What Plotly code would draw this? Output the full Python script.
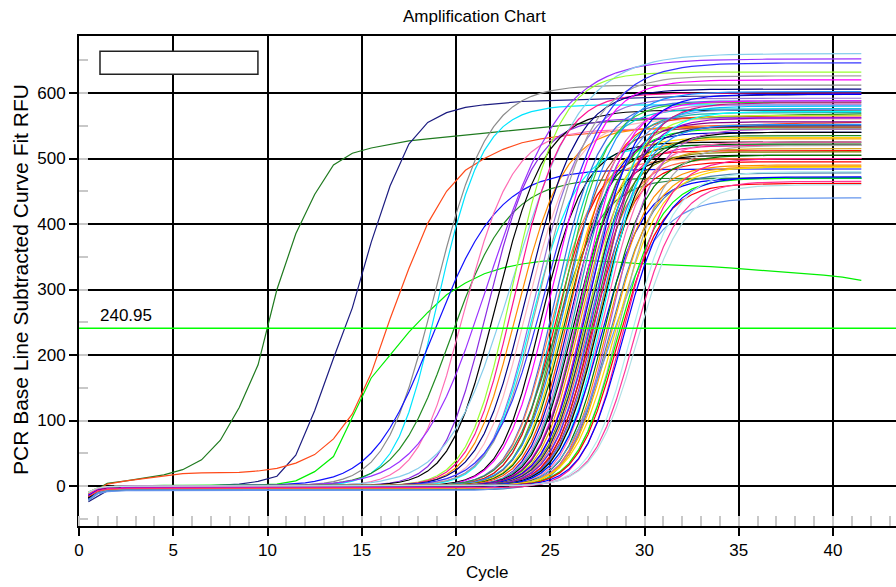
import numpy as np
import plotly.graph_objects as go

# ---------------------------------------------------------------------------
# Amplification run: base-line subtracted, curve-fit RFU per well
# ---------------------------------------------------------------------------
THRESHOLD = 240.95
THRESHOLD_LABEL = "240.95"

# Wells stored point by point (one value per cycle, read at half-cycle marks)
TABLE_CYCLES = list(np.arange(0.5, 41.6, 1.0))

EARLY_GREEN_RFU = [-12, 4, 8, 12, 17, 25, 40, 70, 120, 185, 300, 385, 445, 490, 508,
                   516, 522, 527, 530, 533, 536, 539, 542, 545, 548, 551, 553, 555,
                   557, 559, 560, 561, 562, 563, 564, 565, 566, 566, 567, 567, 568, 568]
NAVY_RFU = [-24, -7, -2, -1, 0, 0, 0, 1, 3, 7, 15, 47, 115, 195, 272, 372, 458, 522,
            555, 570, 578, 582, 585, 587, 588, 589, 590, 591, 592, 593, 594, 594,
            595, 595, 596, 596, 597, 597, 598, 598, 599, 599]
ORANGE_RED_RFU = [-14, 3, 8, 12, 16, 19, 20, 20, 21, 23, 27, 35, 48, 72, 110, 172,
                  255, 332, 401, 450, 482, 500, 514, 524, 530, 534, 537, 540, 542,
                  544, 546, 548, 549, 550, 551, 552, 553, 553, 554, 554, 555, 555]
LIME_RFU = [-15, -2, 0, 1, 1, 1, 1, 1, 2, 2, 3, 8, 22, 45, 105, 165, 200, 235, 265,
            292, 310, 324, 333, 339, 343, 345, 345, 344, 342, 340, 339, 338, 336,
            335, 333, 331, 329, 327, 325, 322, 319, 314]

TABLE_SERIES = [EARLY_GREEN_RFU, NAVY_RFU, ORANGE_RED_RFU, LIME_RFU]
TABLE_COLORS = ["#1F7A1F", "#1C1C80", "#FF4A1A", "#00F000"]

# Wells stored as curve-fit results: threshold cycle, plateau RFU, fit width
FIT_CT = [18.4, 18.7, 18.9, 19.9, 20.2, 20.9, 21.4, 21.8, 22.2, 22.5,
          22.7, 23.0, 23.3, 23.5, 23.8, 23.9, 24.0, 24.2, 24.4, 24.6,
          24.9, 25.0, 25.1, 25.2, 25.3, 25.35, 25.4, 25.5, 25.6, 25.7,
          25.8, 25.9, 26.0, 26.1, 26.2, 26.3, 26.35, 26.4, 26.5, 26.6,
          26.65, 26.7, 26.8, 26.85, 26.9, 27.0, 27.05, 27.1, 27.2, 27.25,
          27.3, 27.4, 27.45, 27.5, 27.6, 27.7, 27.8, 27.9, 28.0, 28.1,
          28.2, 28.3, 28.4, 28.5, 28.6, 28.7, 28.8, 28.9, 29.0, 29.4,
          29.6, 29.8]
FIT_PLATEAU = [612, 582, 484, 470, 545, 652, 562, 574, 660, 632,
               600, 548, 606, 560, 592, 520, 626, 646, 525, 620,
               588, 500, 576, 512, 586, 470, 548, 602, 532, 522,
               565, 540, 582, 570, 505, 588, 545, 556, 530, 575,
               520, 598, 510, 566, 550, 500, 580, 562, 535, 495,
               585, 552, 515, 540, 572, 525, 470, 505, 490, 545,
               478, 488, 440, 487, 520, 470, 462, 500, 472, 480,
               465, 460]
FIT_WIDTH = [1.45, 1.25, 1.8, 1.6, 1.35, 2.0, 1.3, 1.35, 1.9, 1.3,
             1.3, 1.3, 1.4, 1.3, 1.3, 1.25, 1.4, 1.6, 1.2, 1.35,
             1.25, 1.2, 1.2, 1.2, 1.2, 1.3, 1.2, 1.3, 1.2, 1.2,
             1.2, 1.2, 1.2, 1.2, 1.15, 1.2, 1.15, 1.2, 1.15, 1.2,
             1.15, 1.25, 1.15, 1.2, 1.2, 1.15, 1.2, 1.2, 1.15, 1.15,
             1.2, 1.2, 1.15, 1.2, 1.2, 1.15, 1.2, 1.15, 1.15, 1.2,
             1.2, 1.2, 1.4, 1.25, 1.2, 1.2, 1.2, 1.2, 1.2, 1.2,
             1.2, 1.25]
FIT_BASELINE = [0, 0, 0, 0, 0, 0, 0, 0, 0, 0,
                0, 0, 0, 0, 0, 0, 0, 0, 0, -2,
                0, 0, 0, 0, 0, 0, 0, 0, 0, 0,
                0, -3, 0, 0, 0, 0, 0, 0, 0, -5,
                0, 0, 0, 0, 0, 0, 0, 0, 0, 0,
                0, 0, 0, 0, 0, 0, 0, 0, -4, 0,
                -6, 0, -7, 0, 0, 0, 0, -3, 0, 0,
                0, 0]
FIT_FIRST_CYCLE = [-14, -12, -16, -13, -10, -15, -12, -18, -11, -13,
                   -9, -14, -20, -10, -12, -12, -15, -13, -17, -11,
                   -13, -12, -12, -14, -10, -13, -15, -12, -9, -16,
                   -12, -18, -11, -13, -17, -12, -10, -14, -12, -15,
                   -11, -16, -13, -10, -19, -12, -11, -14, -15, -12,
                   -10, -13, -11, -18, -12, -10, -15, -14, -12, -11,
                   -16, -12, -14, -10, -13, -11, -15, -12, -14, -10,
                   -12, -9]
FIT_COLORS = ["#8C8C8C", "#00E5FF", "#1010FF", "#228B22", "#FF6EB4", "#9B30FF",
              "#8A2BE2", "#000000", "#87CEEB", "#99FF33", "#FF1493", "#FF8C00",
              "#000080", "#FFB6C1", "#9370DB", "#00FFFF", "#A0A0A0", "#3333FF",
              "#000000", "#FF00FF", "#4169E1", "#FF7F50", "#00CED1", "#FF0000",
              "#32CD32", "#2E8B57", "#A0522D", "#1E90FF", "#FFD700", "#006400",
              "#FF4500", "#0000CD", "#DA70D6", "#20B2AA", "#000000", "#FF00FF",
              "#00FF00", "#8B008B", "#FFA500", "#6495ED", "#FF1493", "#0000FF",
              "#808000", "#ADFF2F", "#191970", "#FF6347", "#00BFFF", "#9400D3",
              "#228B22", "#FF0000", "#C71585", "#1E90FF", "#DAA520", "#000000",
              "#00FFFF", "#FF69B4", "#0000FF", "#008000", "#FF8C00", "#BA55D3",
              "#4682B4", "#FFA500", "#6495ED", "#FFD700", "#A9A9A9", "#00FF00",
              "#FF0000", "#FF1493", "#0000FF", "#AFEEEE", "#FF3399", "#B0E0E6"]

FIT_ASYMMETRY = 1.3
FIT_CYCLES = np.arange(0.5, 41.51, 0.5)


def fitted_rfu(ct, plateau, width, baseline, first):
    """Asymmetric sigmoid curve fit passing through THRESHOLD at cycle ct."""
    g = FIT_ASYMMETRY
    q = (plateau / THRESHOLD) ** (1.0 / g) - 1.0
    mid = ct + width * np.log(q)
    rise = (1.0 + np.exp(-(FIT_CYCLES - mid) / width)) ** (-g)
    settle = first * np.exp(-(FIT_CYCLES - 0.5) / 0.45)
    return baseline + (plateau - baseline) * rise + settle


fig = go.Figure()

for rfu, color in zip(TABLE_SERIES, TABLE_COLORS):
    fig.add_trace(go.Scatter(x=TABLE_CYCLES, y=rfu, mode="lines",
                             line=dict(color=color, width=1.2),
                             hoverinfo="skip", showlegend=False))

for ct, plateau, width, base, first, color in zip(FIT_CT, FIT_PLATEAU, FIT_WIDTH,
                                                   FIT_BASELINE, FIT_FIRST_CYCLE,
                                                   FIT_COLORS):
    fig.add_trace(go.Scatter(x=FIT_CYCLES, y=fitted_rfu(ct, plateau, width, base, first),
                             mode="lines", line=dict(color=color, width=1.2),
                             hoverinfo="skip", showlegend=False))

FONT = "Liberation Sans, Arial, sans-serif"

# threshold line across the whole plot
fig.add_shape(type="line", xref="paper", x0=0, x1=1, yref="y",
              y0=THRESHOLD, y1=THRESHOLD, line=dict(color="#00FF00", width=1.6),
              layer="above")
fig.add_annotation(x=1.0, y=THRESHOLD, xref="x", yref="y", text=THRESHOLD_LABEL,
                   showarrow=False, xanchor="left", yanchor="bottom", yshift=1,
                   font=dict(family=FONT, size=17, color="black"))

# empty legend frame in the upper-left corner
fig.add_shape(type="rect", xref="paper", yref="paper",
              x0=0.0257, x1=0.219, y0=0.922, y1=0.969,
              fillcolor="white", line=dict(color="#222222", width=1.5), layer="above")

fig.add_annotation(text="Amplification Chart", xref="paper", yref="paper",
                   x=0.4847, y=1.0388, xanchor="center", yanchor="middle",
                   showarrow=False, font=dict(family=FONT, size=17, color="black"))
fig.add_annotation(text="Cycle", xref="paper", yref="paper",
                   x=0.5, y=-0.094, xanchor="center", yanchor="middle",
                   showarrow=False, font=dict(family=FONT, size=17, color="black"))
fig.add_annotation(text="PCR Base Line Subtracted Curve Fit RFU", xref="paper",
                   yref="paper", x=-0.0722, y=0.502, xanchor="center",
                   yanchor="middle", textangle=-90, showarrow=False,
                   font=dict(family=FONT, size=21, color="black"))

axis_common = dict(showgrid=True, gridcolor="black", gridwidth=2, zeroline=False,
                   showline=True, linecolor="black", linewidth=2,
                   ticks="outside", ticklen=8, tickwidth=2, tickcolor="black",
                   tickfont=dict(family=FONT, size=17, color="black"))

fig.update_layout(
    width=896, height=587,
    margin=dict(l=79, r=0, t=36, b=61),
    paper_bgcolor="white", plot_bgcolor="white",
    showlegend=False,
    xaxis=dict(range=[0, 43.34], tick0=0, dtick=5, mirror=True,
               minor=dict(dtick=1, ticks="inside", ticklen=10, tickwidth=2,
                          tickcolor="#C8C8C8", showgrid=False),
               **axis_common),
    yaxis=dict(range=[-61, 687], tick0=0, dtick=100,
               minor=dict(dtick=50, ticks="inside", ticklen=9, tickwidth=2,
                          tickcolor="#C8C8C8", showgrid=False),
               **axis_common),
)

fig.write_html("out.html")
